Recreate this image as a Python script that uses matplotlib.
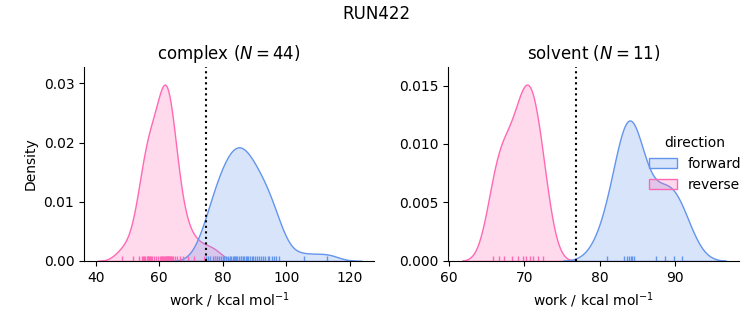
import numpy as np
import pandas as pd
import matplotlib
matplotlib.use('Agg')
import matplotlib.pyplot as plt
import seaborn as sns

# work values (kcal/mol)
complex_forward = [74.6, 75.4, 76.1, 76.9, 77.5, 78.3, 78.9, 79.6, 80.2, 80.5,
                   81.0, 81.7, 82.3, 82.6, 83.1, 83.4, 83.8, 84.2, 84.5, 85.2,
                   85.6, 85.9, 86.4, 86.8, 87.3, 87.6, 88.1, 88.7, 89.2, 89.6,
                   90.1, 90.8, 91.5, 92.0, 92.7, 93.4, 94.1, 94.7, 95.5, 96.2,
                   96.8, 97.6, 105.5, 112.7]
complex_reverse = [48.3, 51.7, 53.5, 54.5, 55.0, 55.3, 55.6, 56.0, 56.3, 56.6,
                   56.8, 57.2, 57.5, 57.8, 58.4, 59.0, 59.6, 60.1, 60.5, 60.9,
                   61.0, 61.2, 61.5, 61.8, 62.0, 62.2, 62.4, 62.5, 62.6, 62.8,
                   63.0, 63.1, 63.3, 63.6, 63.9, 64.3, 64.8, 65.5, 66.4, 67.5,
                   69.0, 71.0, 74.0, 77.5]
solvent_forward = [80.9, 83.2, 83.6, 83.9, 84.1, 84.3, 84.5, 87.4, 88.6, 89.8, 90.9]
solvent_reverse = [65.8, 66.6, 67.3, 68.3, 69.1, 69.8, 70.2, 70.7, 71.2, 71.8, 72.5]

# free energy estimates (dotted lines)
dg = {'complex': 74.8, 'solvent': 76.8}

rows = []
for phase, direction, vals in [('complex', 'forward', complex_forward),
                               ('complex', 'reverse', complex_reverse),
                               ('solvent', 'forward', solvent_forward),
                               ('solvent', 'reverse', solvent_reverse)]:
    for v in vals:
        rows.append((phase, direction, v))
df = pd.DataFrame(rows, columns=['phase', 'direction', 'work'])

g = sns.displot(data=df, x='work', hue='direction', col='phase', kind='kde',
                fill=True, rug=True, hue_order=['forward', 'reverse'],
                col_order=['complex', 'solvent'],
                palette={'forward': 'cornflowerblue', 'reverse': 'hotpink'},
                facet_kws=dict(sharex=False, sharey=False))

fig = g.figure
fig.set_size_inches(7.53, 3.25)
fig.subplots_adjust(left=0.1116, right=0.981, bottom=0.197, top=0.794, wspace=0.254)

xlims = {'complex': (36.3, 127.8), 'solvent': (59.9, 98.4)}
for phase, ax in g.axes_dict.items():
    n = len(df[(df.phase == phase) & (df.direction == 'forward')])
    ax.set_title('%s ($N=%d$)' % (phase, n), fontsize=12)
    ax.axvline(dg[phase], color='k', ls=':')
    ax.set_xlim(*xlims[phase])
    ax.set_xlabel('work / kcal mol$^{-1}$')

fig.suptitle('RUN422', fontsize=12, y=0.985)
sns.move_legend(g, 'upper left', bbox_to_anchor=(0.845, 0.62), frameon=False)

fig.savefig('out.png', dpi=100)
